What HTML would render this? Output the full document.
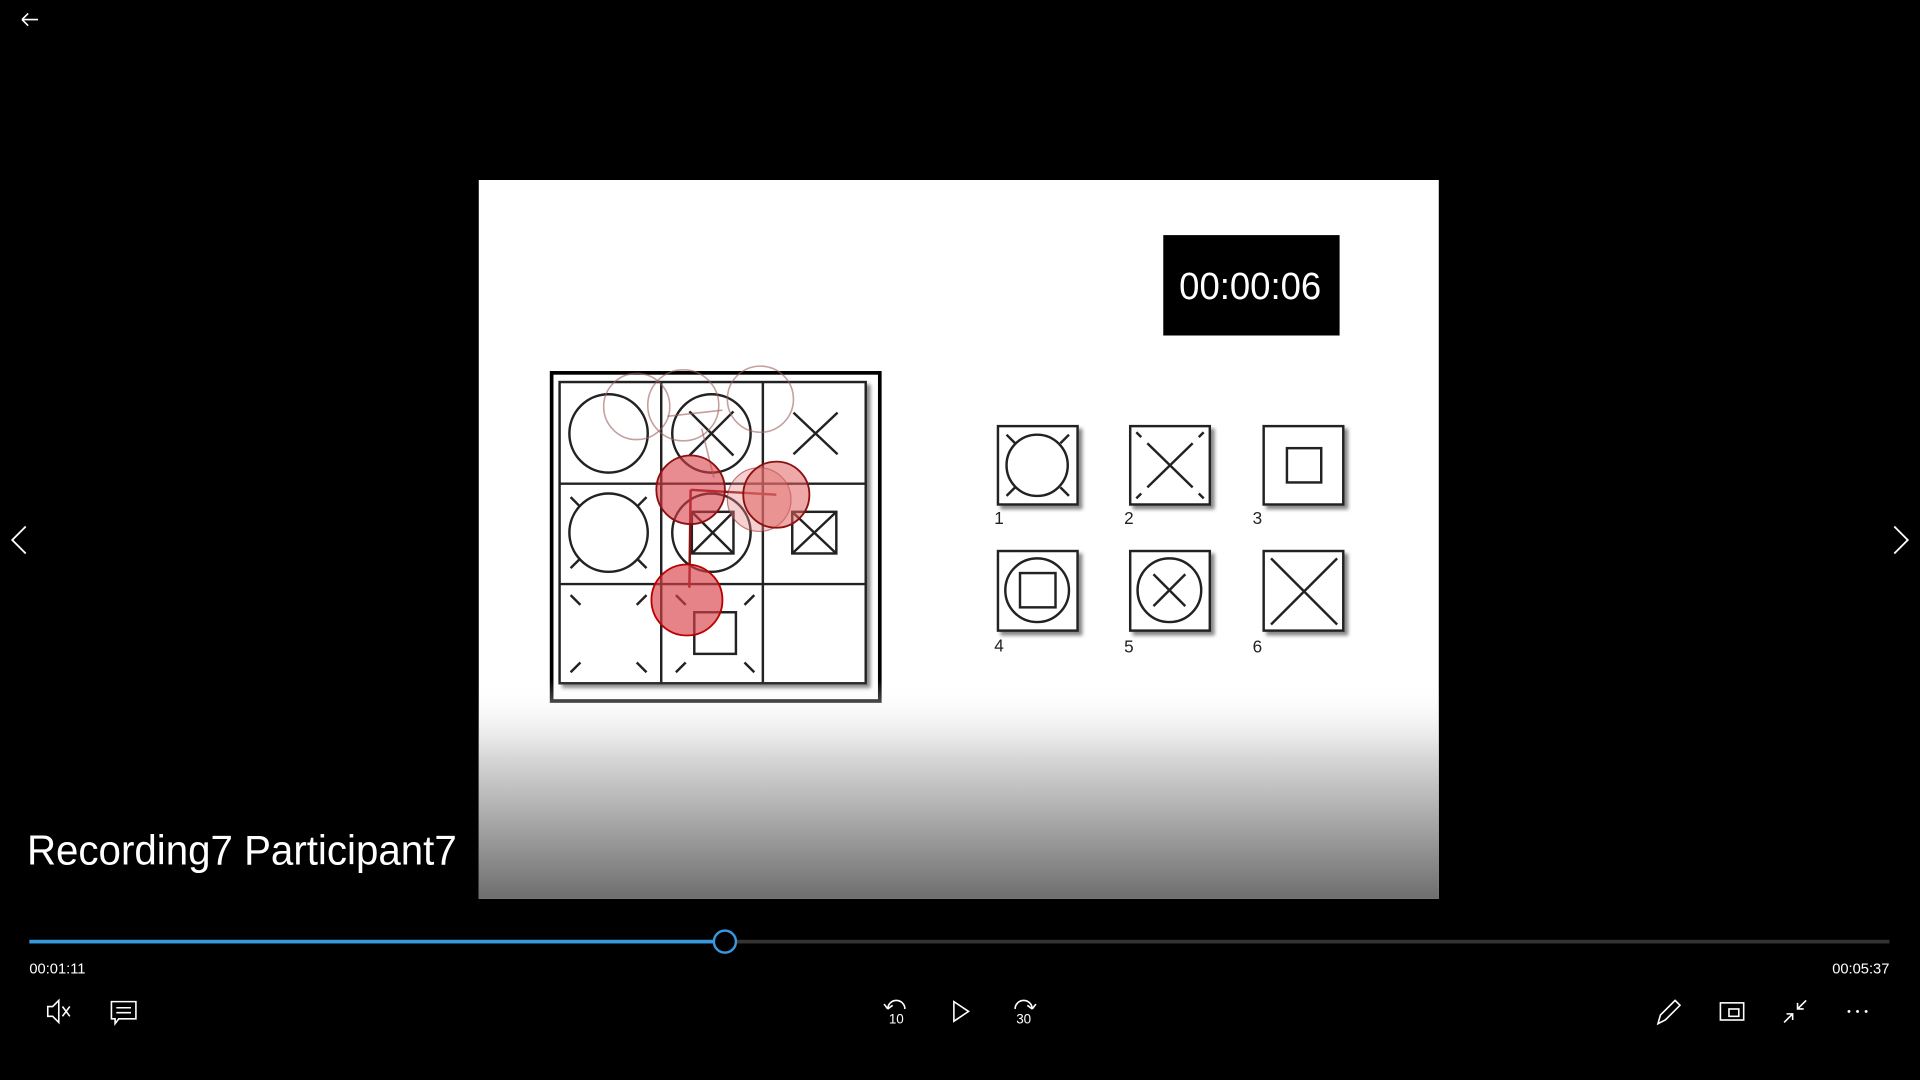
<!DOCTYPE html>
<html><head><meta charset="utf-8"><style>
html,body{margin:0;padding:0;background:#000;overflow:hidden;width:1920px;height:1080px}
svg{display:block}
</style></head><body>
<svg width="1920" height="1080" viewBox="0 0 1568 882" xmlns="http://www.w3.org/2000/svg" font-family="Liberation Sans, sans-serif">
<defs>
<linearGradient id="fade" x1="0" y1="0" x2="0" y2="1">
<stop offset="0" stop-color="#fff" stop-opacity="0"/>
<stop offset="0.35" stop-color="#d8d8d8"/>
<stop offset="1" stop-color="#6e6e6e"/>
</linearGradient>
<filter id="sh"><feDropShadow dx="3" dy="3" stdDeviation="1.5" flood-color="#555" flood-opacity="0.7"/></filter>
</defs>
<rect width="1568" height="882" fill="#000"/>
<g stroke="#fff" stroke-width="1.3" fill="none"><path d="M18 16 H31 M18 16 L23 11 M18 16 L23 21"/></g>
<g stroke="#fff" stroke-width="1.5" fill="none"><path d="M21 430 L10 441 L21 452"/></g>
<g stroke="#fff" stroke-width="1.5" fill="none"><path d="M1547 430 L1558 441 L1547 452"/></g>

<g>
<rect x="391" y="147" width="784" height="587" fill="#fff"/>
<g>
<rect x="950" y="192" width="144" height="82" fill="#000"/>
<text x="963" y="244" fill="#fff" font-size="31" textLength="116" lengthAdjust="spacingAndGlyphs">00:00:06</text>
</g>
<g stroke="#222" fill="none" stroke-width="2">
<rect x="450.5" y="304.5" width="268" height="268" stroke="#000" stroke-width="3"/>
<rect x="457" y="312" width="250" height="246" filter="url(#sh)" fill="#fff"/>
<path d="M540 312 V558 M623 312 V558 M457 395 H707 M457 477 H707"/>
<circle cx="497" cy="354" r="32"/>
<circle cx="581" cy="354" r="32"/><path d="M563 336 L599 372 M599 336 L563 372"/>
<path d="M648 337 L684 371 M684 337 L648 371"/>
<circle cx="497" cy="435" r="32"/><path d="M466 406 L474 414 M528 406 L520 414 M466 464 L474 456 M528 464 L520 456"/>
<circle cx="581" cy="435" r="32"/><rect x="565" y="418" width="34" height="34"/><path d="M565 418 L599 452 M599 418 L565 452"/>
<rect x="647" y="418" width="36" height="34"/><path d="M647 418 L683 452 M683 418 L647 452"/>
<path d="M466 486 L474 494 M528 486 L520 494 M466 549 L474 541 M528 549 L520 541"/>
<path d="M552 486 L560 494 M616 486 L608 494 M552 549 L560 541 M616 549 L608 541"/>
<rect x="567" y="500" width="34" height="34"/>
</g>
<g stroke="#222" fill="#fff" stroke-width="2">
<g><rect x="815" y="348" width="65" height="64" filter="url(#sh)"/><circle cx="847" cy="380" r="25" fill="none"/><path d="M822 355 L829 362 M873 355 L866 362 M822 405 L829 398 M873 405 L866 398" fill="none"/></g>
<g><rect x="923" y="348" width="65" height="64" filter="url(#sh)"/><path d="M937 362 L974 398 M974 362 L937 398 M928 353 L932 357 M983 353 L979 357 M928 407 L932 403 M983 407 L979 403" fill="none"/></g>
<g><rect x="1032" y="348" width="65" height="64" filter="url(#sh)"/><rect x="1051" y="366" width="28" height="28" fill="none"/></g>
<g><rect x="815" y="450" width="65" height="65" filter="url(#sh)"/><circle cx="847" cy="482" r="26" fill="none"/><rect x="833" y="468" width="29" height="28" fill="none"/></g>
<g><rect x="923" y="450" width="65" height="65" filter="url(#sh)"/><circle cx="955" cy="482" r="26" fill="none"/><path d="M942 469 L968 495 M968 469 L942 495" fill="none"/></g>
<g><rect x="1032" y="450" width="65" height="65" filter="url(#sh)"/><path d="M1038 456 L1092 510 M1092 456 L1038 510" fill="none"/></g>
</g>
<g font-size="14" fill="#222">
<text x="812" y="428">1</text><text x="918" y="428">2</text><text x="1023" y="428">3</text>
<text x="812" y="532">4</text><text x="918" y="533">5</text><text x="1023" y="533">6</text>
</g>
<g>
<g fill="none" stroke="#a06060" stroke-opacity="0.6" stroke-width="1.3">
<circle cx="520" cy="332" r="27"/><circle cx="558" cy="331" r="29"/><circle cx="621" cy="326" r="27"/>
<path d="M545 340 L590 335 M573 350 L583 390"/>
</g>
<path d="M564 400 L634 404 M564 400 L563 480" stroke="#8b1010" stroke-width="2" fill="none"/>
<circle cx="564" cy="400" r="28" fill="#d9404a" fill-opacity="0.6" stroke="#8b1010" stroke-width="1.5"/>
<circle cx="620" cy="408" r="26" fill="#e88a8a" fill-opacity="0.4" stroke="#a03030" stroke-opacity="0.6"/>
<circle cx="634" cy="404" r="27" fill="#e06060" fill-opacity="0.55" stroke="#8b1010" stroke-width="1.5"/>
<circle cx="561" cy="490" r="29" fill="#d9404a" fill-opacity="0.65" stroke="#b00" stroke-width="1.5"/>
</g>
<rect x="391" y="555" width="784" height="179" fill="url(#fade)"/>
</g>

<text x="22" y="706" fill="#fff" font-size="34" textLength="351" lengthAdjust="spacingAndGlyphs">Recording7 Participant7</text>

<g>
<rect x="24" y="767.5" width="1519" height="3" fill="#333"/>
<rect x="24" y="767.5" width="568" height="3" fill="#3a96dd"/>
<circle cx="592" cy="769" r="9" fill="#000" stroke="#3a96dd" stroke-width="2"/>
</g>
<text x="24" y="795" fill="#fff" font-size="12">00:01:11</text>
<text x="1543" y="795" fill="#fff" font-size="12" text-anchor="end">00:05:37</text>

<g stroke="#fff" stroke-width="1.3" fill="none">
<g><path d="M39 822 H43 L48 817 V835 L43 830 H39 Z M51 822 L57 830 M57 822 L51 830"/></g>
<g><path d="M91 818 H111 V832 H97 L94 836 V832 H91 Z M95 823 H107 M95 827 H107"/></g>
<g><path d="M725 824 A7 7 0 1 1 739 824 M725 824 L722 820 M725 824 L729 821"/><text x="732" y="836" fill="#fff" stroke="none" font-size="11" text-anchor="middle">10</text></g>
<g><path d="M779 818 L791 826 L779 834 Z"/></g>
<g><path d="M829 824 A7 7 0 1 1 843 824 M843 824 L846 820 M843 824 L839 821"/><text x="836" y="836" fill="#fff" stroke="none" font-size="11" text-anchor="middle">30</text></g>
<g><path d="M1354 836 L1356 829 L1368 817 L1372 821 L1360 833 Z"/></g>
<g><rect x="1405" y="819" width="19" height="14"/><rect x="1412" y="824" width="8" height="6"/></g>
<g><path d="M1457 835 L1464 828 M1459 828 H1464 V833 M1475 817 L1468 824 M1468 819 V824 H1473"/></g>
</g>
<g fill="#fff"><circle cx="1510" cy="826" r="1.2"/><circle cx="1517" cy="826" r="1.2"/><circle cx="1524" cy="826" r="1.2"/></g>
</svg>
</body></html>
